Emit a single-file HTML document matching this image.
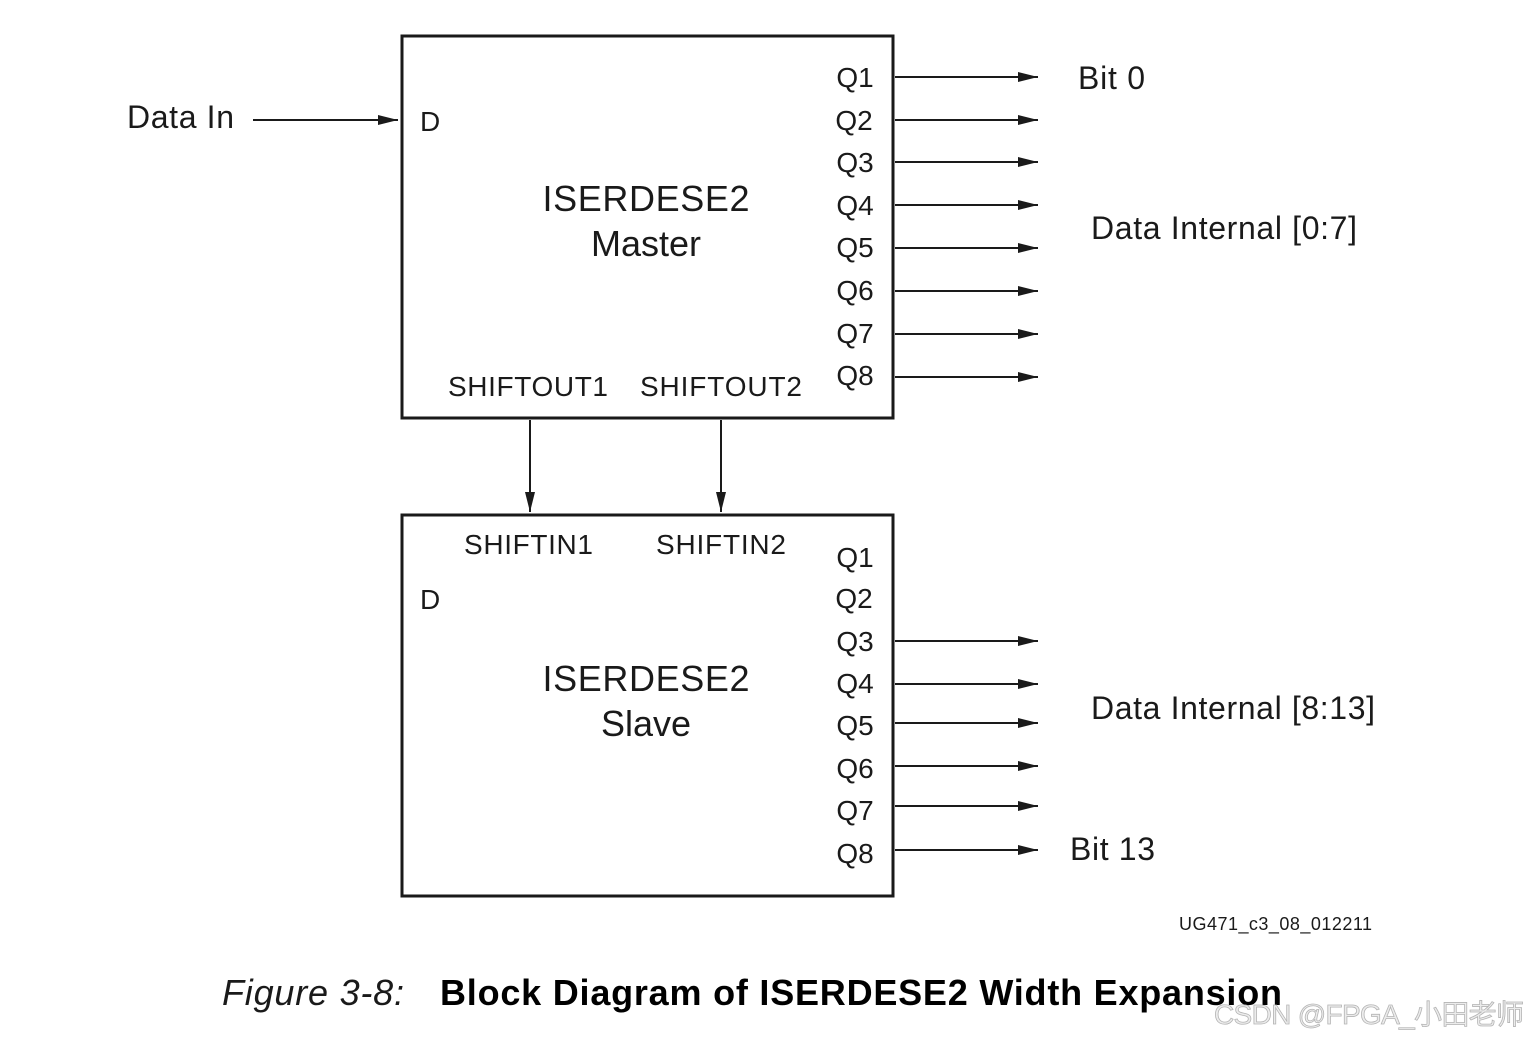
<!DOCTYPE html>
<html><head><meta charset="utf-8"><style>
html,body{margin:0;padding:0;background:#fff;}
svg{display:block;}
text{font-family:"Liberation Sans",sans-serif;fill:#1a1a1a;}
</style></head><body>
<svg width="1530" height="1040" viewBox="0 0 1530 1040" xmlns="http://www.w3.org/2000/svg">
<defs>
<marker id="a" markerWidth="20" markerHeight="10" refX="20" refY="5" orient="auto" markerUnits="userSpaceOnUse">
<path d="M0,0 L20,5 L0,10 Z" fill="#1a1a1a"/></marker>
</defs>
<g stroke="#1a1a1a" fill="none">
<rect x="402" y="36" width="491" height="382" stroke-width="3"/>
<rect x="402" y="515" width="491" height="381" stroke-width="3"/>
<g stroke-width="2" marker-end="url(#a)">
<line x1="253" y1="120" x2="398" y2="120"/>
<line x1="895" y1="77" x2="1038" y2="77"/>
<line x1="895" y1="120" x2="1038" y2="120"/>
<line x1="895" y1="162" x2="1038" y2="162"/>
<line x1="895" y1="205" x2="1038" y2="205"/>
<line x1="895" y1="248" x2="1038" y2="248"/>
<line x1="895" y1="291" x2="1038" y2="291"/>
<line x1="895" y1="334" x2="1038" y2="334"/>
<line x1="895" y1="377" x2="1038" y2="377"/>
<line x1="530" y1="420" x2="530" y2="512"/>
<line x1="721" y1="420" x2="721" y2="512"/>
<line x1="895" y1="641" x2="1038" y2="641"/>
<line x1="895" y1="684" x2="1038" y2="684"/>
<line x1="895" y1="723" x2="1038" y2="723"/>
<line x1="895" y1="766" x2="1038" y2="766"/>
<line x1="895" y1="806" x2="1038" y2="806"/>
<line x1="895" y1="850" x2="1038" y2="850"/>
</g>
</g>
<g font-size="28" text-anchor="middle">
<text x="855" y="87">Q1</text><text x="854" y="130">Q2</text><text x="855" y="172">Q3</text><text x="855" y="215">Q4</text>
<text x="855" y="257">Q5</text><text x="855" y="300">Q6</text><text x="855" y="343">Q7</text><text x="855" y="385">Q8</text>
<text x="855" y="567">Q1</text><text x="854" y="608">Q2</text><text x="855" y="651">Q3</text><text x="855" y="693">Q4</text>
<text x="855" y="735">Q5</text><text x="855" y="778">Q6</text><text x="855" y="820">Q7</text><text x="855" y="863">Q8</text>
</g>
<g font-size="28">
<text x="420" y="131">D</text>
<text x="420" y="609">D</text>
<text x="448" y="396" textLength="160">SHIFTOUT1</text>
<text x="640" y="396" textLength="162">SHIFTOUT2</text>
<text x="464" y="554" textLength="129">SHIFTIN1</text>
<text x="656" y="554" textLength="130">SHIFTIN2</text>
</g>
<g font-size="36" text-anchor="middle">
<text x="646" y="211" textLength="207">ISERDESE2</text>
<text x="646" y="256">Master</text>
<text x="646" y="691" textLength="207">ISERDESE2</text>
<text x="646" y="736">Slave</text>
</g>
<g font-size="32">
<text x="127" y="128" textLength="107">Data In</text>
<text x="1078" y="89" textLength="67">Bit 0</text>
<text x="1091" y="239" textLength="266">Data Internal [0:7]</text>
<text x="1091" y="719" textLength="284">Data Internal [8:13]</text>
<text x="1070" y="860" textLength="85">Bit 13</text>
</g>
<text x="1179" y="930" font-size="18" textLength="193">UG471_c3_08_012211</text>
<text x="222" y="1005" font-size="36" font-style="italic" textLength="182">Figure 3-8:</text>
<text x="440" y="1005" font-size="36" font-weight="bold" textLength="842" style="fill:#000">Block Diagram of ISERDESE2 Width Expansion</text>
<text x="1214" y="1024" font-size="28" style="fill:#ececec;stroke:#b4b4b4;stroke-width:0.8;font-family:'Liberation Sans','Noto Sans CJK SC',sans-serif" textLength="310">CSDN @FPGA_小田老师</text>
</svg>
</body></html>
